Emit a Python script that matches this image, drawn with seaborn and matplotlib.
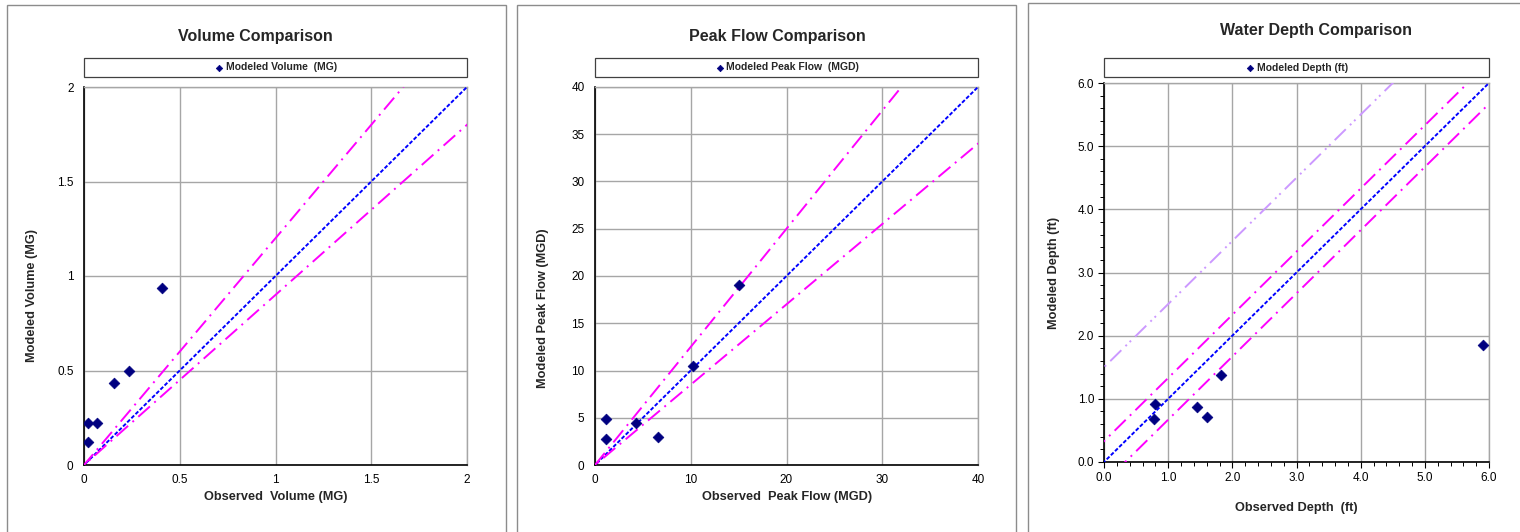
import matplotlib
matplotlib.use("Agg")
import matplotlib.pyplot as plt
import seaborn as sns
import numpy as np
import pandas as pd
from matplotlib.patches import Rectangle
from matplotlib.ticker import MultipleLocator, FormatStrFormatter, FuncFormatter

sns.set_theme(style="white")
plt.rcParams['font.family'] = ['Liberation Sans', 'DejaVu Sans']

# ---- data ----
vol_obs = [0.02, 0.02, 0.07, 0.155, 0.235, 0.405]
vol_mod = [0.12, 0.22, 0.22, 0.435, 0.50, 0.935]
flow_obs = [1.2, 1.2, 4.3, 6.6, 10.2, 15.0]
flow_mod = [2.7, 4.9, 4.4, 3.0, 10.5, 19.0]
depth_obs = [0.78, 0.80, 1.45, 1.60, 1.82, 5.90]
depth_mod = [0.68, 0.92, 0.87, 0.72, 1.37, 1.85]

titles = ["Volume Comparison", "Peak Flow Comparison", "Water Depth Comparison"]
legend_labels = ["Modeled Volume  (MG)", "Modeled Peak Flow  (MGD)", "Modeled Depth (ft)"]
xlabels = ["Observed  Volume (MG)", "Observed  Peak Flow (MGD)", "Observed Depth  (ft)"]
ylabels = ["Modeled Volume (MG)", "Modeled Peak Flow (MGD)", "Modeled Depth (ft)"]
axis_max = [2, 40, 6]
major_step = [0.5, 5, 1.0]
xmajor_step = [0.5, 10, 1.0]
# reference lines: (slope, intercept)
vol_lines = [(1.2, 0.0), (0.9, 0.0)]
flow_lines = [(1.25, 0.0), (0.85, 0.0)]
depth_lines = [(1.0, 0.33), (1.0, -0.33)]
depth_outer = (1.0, 1.5)

W, H = 1520, 532
fig = plt.figure(figsize=(W / 100, H / 100), dpi=100)

# panel frames (pixels: left, top, right, bottom)
frames = [(7, 5, 506, 540), (517, 5, 1016, 540), (1028, 3, 1530, 540)]
for l, t, r, b in frames:
    fig.patches.append(Rectangle((l / W, 1 - b / H), (r - l) / W, (b - t) / H,
                                 transform=fig.transFigure, fill=False,
                                 edgecolor="#8c8c8c", lw=1.0, zorder=0))

# axes rectangles in pixels: left, top, right, bottom
ax_px = [(84, 87, 467, 465), (595, 87, 978, 465), (1104, 83, 1489, 462)]
axes = []
for l, t, r, b in ax_px:
    axes.append(fig.add_axes([l / W, 1 - b / H, (r - l) / W, (b - t) / H]))

obs_list = [vol_obs, flow_obs, depth_obs]
mod_list = [vol_mod, flow_mod, depth_mod]
lines_list = [vol_lines, flow_lines, depth_lines]

for i, ax in enumerate(axes):
    m = axis_max[i]
    xx = np.linspace(-m, 2 * m, 50)
    # 1:1 line
    df1 = pd.DataFrame({"x": xx, "y": xx})
    sns.lineplot(data=df1, x="x", y="y", ax=ax, color="#0000FF", lw=1.4,
                 linestyle=(0, (2, 1)), zorder=3)
    for s, c in lines_list[i]:
        dfl = pd.DataFrame({"x": xx, "y": s * xx + c})
        sns.lineplot(data=dfl, x="x", y="y", ax=ax, color="#FF00FF", lw=1.4,
                     linestyle=(0, (8, 3, 1, 3)), zorder=3)
    if i == 2:
        s, c = depth_outer
        dfl = pd.DataFrame({"x": xx, "y": s * xx + c})
        sns.lineplot(data=dfl, x="x", y="y", ax=ax, color="#CC99FF", lw=1.4,
                     linestyle=(0, (8, 3, 1, 2, 1, 3)), zorder=3)
    dfp = pd.DataFrame({"obs": obs_list[i], "mod": mod_list[i]})
    sns.scatterplot(data=dfp, x="obs", y="mod", ax=ax, marker="D", s=30,
                    color="#000080", edgecolor="#000080", linewidth=0.5,
                    zorder=5, label=legend_labels[i])
    ax.set_xlim(0, m)
    ax.set_ylim(0, m)
    ax.xaxis.set_major_locator(MultipleLocator(xmajor_step[i]))
    ax.yaxis.set_major_locator(MultipleLocator(major_step[i]))
    if i == 2:
        ax.xaxis.set_minor_locator(MultipleLocator(0.2))
        ax.yaxis.set_minor_locator(MultipleLocator(0.2))
        ax.xaxis.set_major_formatter(FormatStrFormatter("%.1f"))
        ax.yaxis.set_major_formatter(FormatStrFormatter("%.1f"))
        ax.tick_params(which="major", direction="out", length=4, width=0.8,
                       colors="black", labelsize=8.5, bottom=True, left=True)
        ax.tick_params(axis="x", which="major", pad=3.5)
        ax.tick_params(axis="y", which="major", pad=3)
        ax.tick_params(which="minor", direction="out", length=3, width=0.7,
                       colors="black", bottom=True, left=True)
    else:
        ax.xaxis.set_major_formatter(FuncFormatter(lambda v, p: f"{v:g}"))
        ax.yaxis.set_major_formatter(FuncFormatter(lambda v, p: f"{v:g}"))
        ax.tick_params(which="major", length=0, labelsize=8.5, colors="black")
        ax.tick_params(axis="x", pad=6.5)
        ax.tick_params(axis="y", pad=7.5)
    ax.grid(True, which="major", color="#A6A6A6", lw=1.0)
    ax.set_axisbelow(True)
    for sp in ["left", "bottom"]:
        ax.spines[sp].set_color("black")
        ax.spines[sp].set_linewidth(1.2)
    for sp in ["top", "right"]:
        ax.spines[sp].set_color("#A6A6A6")
        ax.spines[sp].set_linewidth(1.0)
    ax.set_xlabel("")
    ax.set_ylabel("")
    # legend box above plot
    ah = ax_px[i][3] - ax_px[i][1]
    gap = (ax_px[i][1] - 77) / ah
    hgt = 19 / ah
    box = Rectangle((0, 1 + gap), 1, hgt, transform=ax.transAxes, fill=True,
                    facecolor="white", edgecolor="#404040", lw=0.9,
                    clip_on=False, zorder=1)
    ax.add_patch(box)
    leg = ax.legend(loc="center", bbox_to_anchor=(0.5, 1 + gap + hgt / 2),
                    frameon=False, prop={"weight": "bold", "size": 7.5},
                    handletextpad=0.1, markerscale=0.6, borderpad=0.0,
                    borderaxespad=0, handlelength=1.0)

# titles, axis labels (pixel positions)
title_pos = [(255, 36), (777, 36), (1316, 31)]
xlab_pos = [(276, 497), (787, 497), (1296, 508)]
ylab_pos = [(32, 295), (543, 308), (1054, 273)]
for i in range(3):
    fig.text(title_pos[i][0] / W, 1 - title_pos[i][1] / H, titles[i],
             ha="center", va="center", fontsize=11.5, fontweight="bold")
    fig.text(xlab_pos[i][0] / W, 1 - xlab_pos[i][1] / H, xlabels[i],
             ha="center", va="center", fontsize=9.2, fontweight="bold")
    fig.text(ylab_pos[i][0] / W, 1 - ylab_pos[i][1] / H, ylabels[i],
             ha="center", va="center", fontsize=9.2, fontweight="bold",
             rotation=90)

fig.savefig("out.png", dpi=100)
